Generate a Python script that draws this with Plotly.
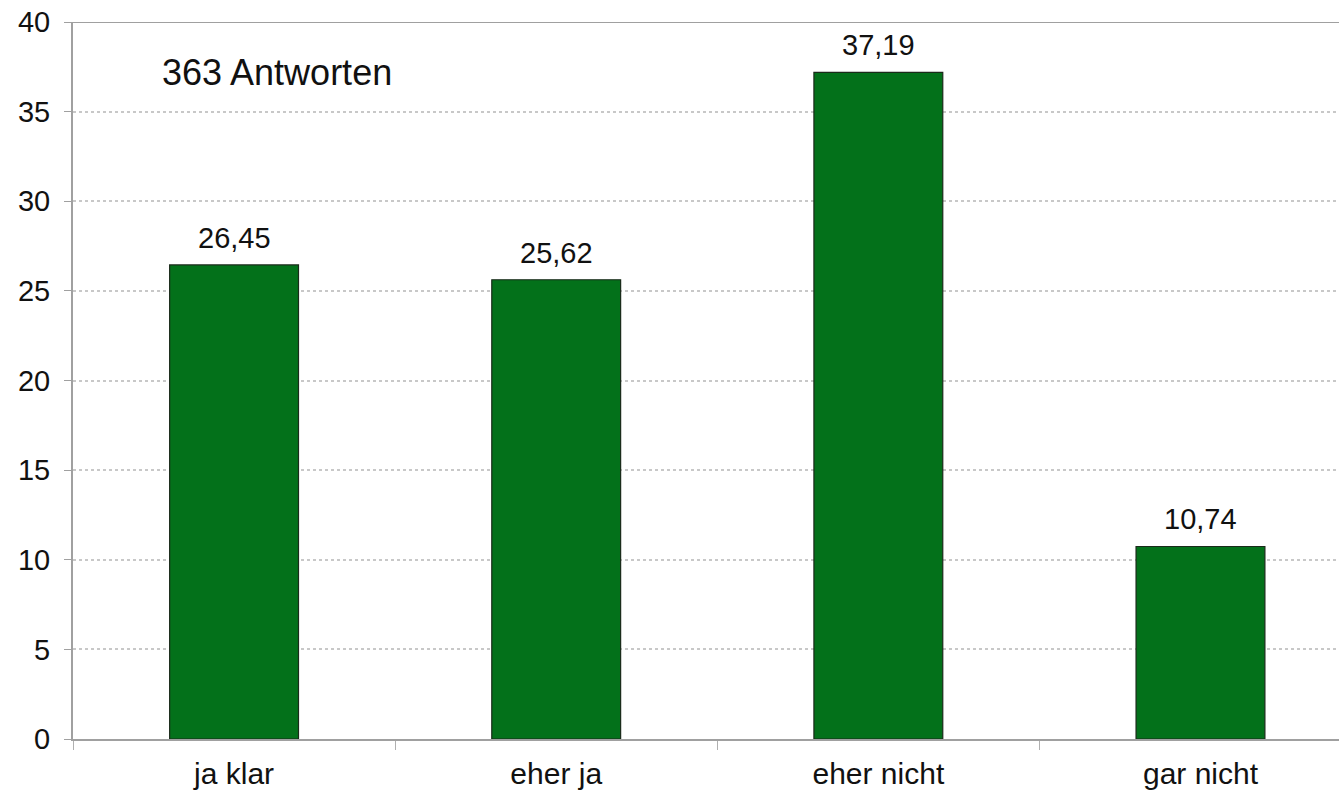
import plotly.graph_objects as go

categories = ["ja klar", "eher ja", "eher nicht", "gar nicht"]
values = [26.45, 25.62, 37.19, 10.74]
y_ticks = [0, 5, 10, 15, 20, 25, 30, 35, 40]
note = "363 Antworten"

labels = [f"{v:.2f}".replace(".", ",") for v in values]

FONT = "Liberation Sans, Arial"

fig = go.Figure(go.Bar(
    x=categories, y=values,
    marker=dict(color="#03711a", line=dict(color="#1a2a1a", width=1.2)),
    width=0.4, hoverinfo="skip",
))

annotations = [dict(text=note, xref="paper", yref="y", x=(160-73)/1266, y=37.2,
                    xanchor="left", yanchor="middle", showarrow=False,
                    font=dict(size=36, color="#111"))]
for c, v, t in zip(categories, values, labels):
    annotations.append(dict(x=c, y=v, text=t, xref="x", yref="y",
                            xanchor="center", yanchor="bottom", yshift=9,
                            showarrow=False, font=dict(size=29, color="#111")))

fig.update_layout(
    width=1339, height=799,
    margin=dict(l=73, r=0, t=22, b=60),
    paper_bgcolor="white", plot_bgcolor="white",
    showlegend=False,
    font=dict(family=FONT, size=29, color="#111"),
    xaxis=dict(
        range=[-0.5, 3.43], showline=True, linecolor="#a0a0a0", linewidth=2,
        ticks="outside", tickson="boundaries", ticklen=9, tickcolor="#b0b0b0",
        showgrid=False, tickfont=dict(size=30), fixedrange=True,
        ticklabelstandoff=7,
    ),
    yaxis=dict(
        range=[0, 40], tickvals=y_ticks, showline=True, linecolor="#a0a0a0",
        linewidth=2, ticks="outside", ticklen=7, tickcolor="#a0a0a0",
        showgrid=True, gridcolor="#c8c8c8", griddash="dot", gridwidth=1.5,
        zeroline=False, tickfont=dict(size=29), ticklabelstandoff=8,
        fixedrange=True,
    ),
    shapes=[dict(type="line", xref="paper", yref="y", x0=0, x1=1, y0=40, y1=40,
                 line=dict(color="#a0a0a0", width=2))],
    annotations=annotations,
)

fig.write_html("out.html", config={"displayModeBar": False},
               post_script="document.body.style.margin='0';")
